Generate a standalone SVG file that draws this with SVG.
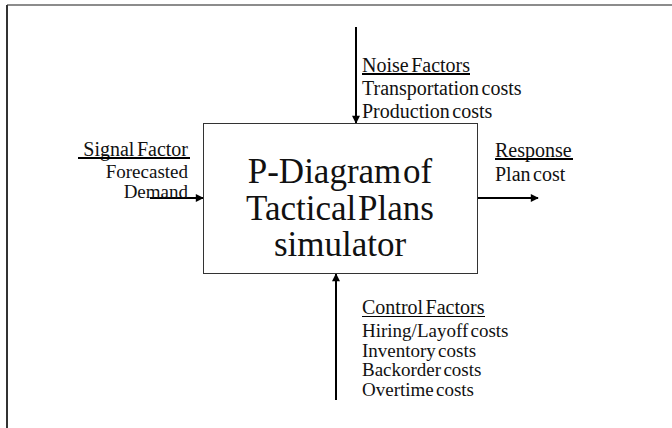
<svg xmlns="http://www.w3.org/2000/svg" width="672" height="428" viewBox="0 0 672 428">
<style>
text{font-family:"Liberation Serif","Times New Roman",serif;fill:#111}
.s{font-size:20px;word-spacing:-2.5px}
.t{font-size:19px;word-spacing:-2.5px}
.b{font-size:35px;word-spacing:-7px}
.c{stroke:#000;stroke-width:2;fill:none}
.u{stroke:#000;stroke-width:2}
</style>
<defs>
<marker id="ah2" viewBox="0 0 10 10" refX="9" refY="5" markerWidth="10" markerHeight="8" orient="auto" markerUnits="userSpaceOnUse"><path d="M0,0 L10,5 L0,10 z" fill="#000"/></marker>
</defs>
<rect width="672" height="428" fill="#fff"/>
<g id="frame">
<line x1="7" y1="5" x2="672" y2="5" stroke="#666" stroke-width="1.5"/>
<line x1="7" y1="5" x2="7" y2="428" stroke="#333" stroke-width="2"/>
</g>
<g id="connectors">
<line class="c" x1="356" y1="27" x2="356" y2="123" marker-end="url(#ah2)"/>
<line class="c" x1="336" y1="400" x2="336" y2="274" marker-end="url(#ah2)"/>
<line class="c" x1="150" y1="198" x2="203" y2="198" marker-end="url(#ah2)"/>
<line class="c" x1="478" y1="198" x2="538" y2="198" marker-end="url(#ah2)"/>
</g>
<g id="simulator">
<rect x="203.5" y="123.5" width="274" height="150" fill="none" stroke="#333" stroke-width="1"/>
<text class="b" x="340" y="183" text-anchor="middle">P-Diagram of</text>
<text class="b" x="340" y="220" text-anchor="middle">Tactical Plans</text>
<text class="b" x="340" y="256" text-anchor="middle">simulator</text>
</g>
<g id="noise">
<text class="s" x="362" y="72">Noise Factors</text>
<line class="u" x1="362" y1="74" x2="470" y2="74"/>
<text class="s" x="362" y="95">Transportation costs</text>
<text class="s" x="362" y="118">Production costs</text>
</g>
<g id="signal">
<text class="s" x="188" y="156" text-anchor="end">Signal Factor</text>
<line class="u" x1="78" y1="158" x2="190" y2="158"/>
<text class="t" x="188" y="178" text-anchor="end">Forecasted</text>
<text class="t" x="188" y="198" text-anchor="end">Demand</text>
</g>
<g id="response">
<text class="s" x="495" y="157">Response</text>
<line class="u" x1="495" y1="159" x2="573" y2="159"/>
<text class="s" x="495" y="181">Plan cost</text>
</g>
<g id="control">
<text class="s" x="362" y="314">Control Factors</text>
<line x1="362" y1="316.5" x2="485" y2="316.5" stroke="#000" stroke-width="1"/>
<text class="t" x="362" y="337">Hiring/Layoff costs</text>
<text class="t" x="362" y="356.5">Inventory costs</text>
<text class="t" x="362" y="376">Backorder  costs</text>
<text class="t" x="362" y="395.5">Overtime costs</text>
</g>
</svg>
